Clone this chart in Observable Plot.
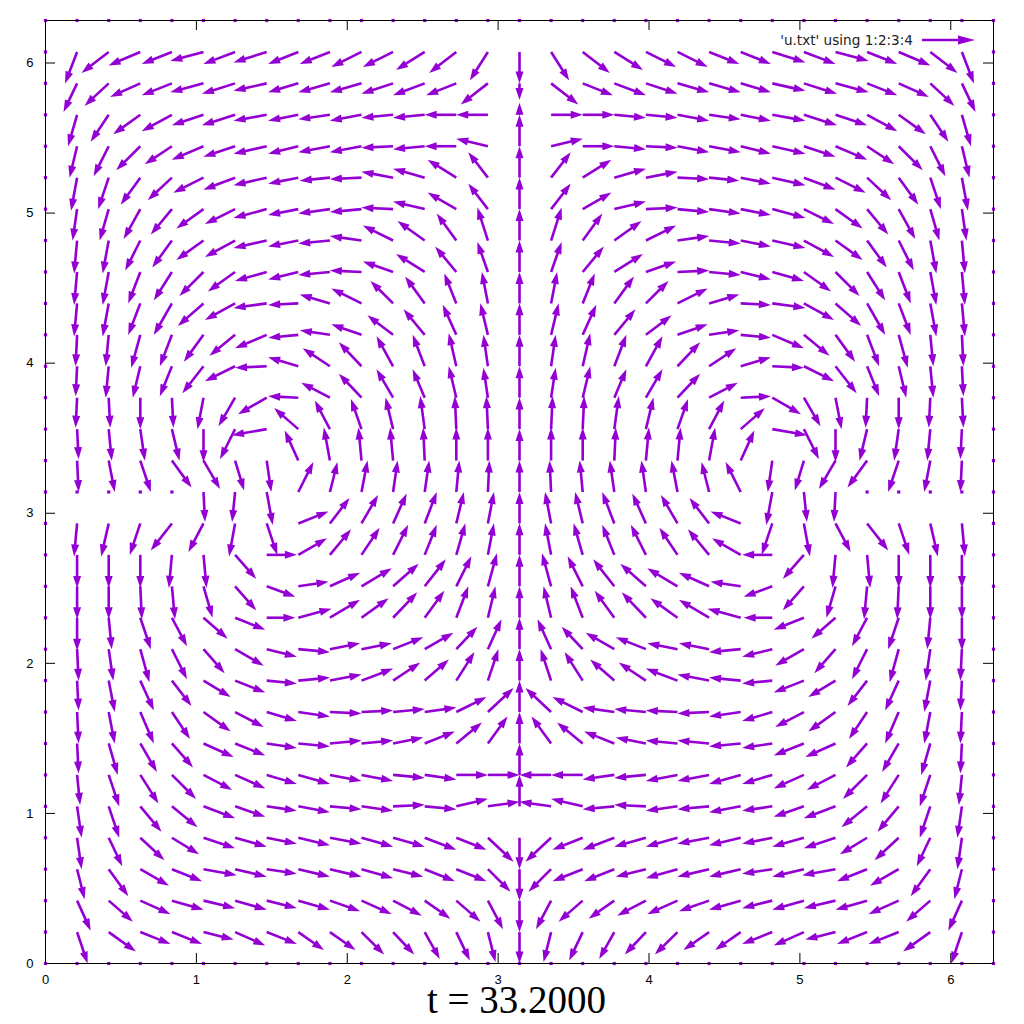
<!DOCTYPE html>
<html><head><meta charset="utf-8">
<script src="https://cdn.jsdelivr.net/npm/d3@7"></script>
<script src="https://cdn.jsdelivr.net/npm/@observablehq/plot@0.6"></script>
<style>body{margin:0;background:#fff}</style>
</head><body><div id="chart"></div>
<script>
// grid coordinates (2*pi/30 spacing)
const xs = [0,0.2094,0.4189,0.6283,0.8378,1.0472,1.2566,1.4661,1.6755,1.8850,2.0944,2.3038,2.5133,2.7227,2.9322,3.1416,3.3510,3.5605,3.7699,3.9794,4.1888,4.3982,4.6077,4.8171,5.0265,5.2360,5.4454,5.6549,5.8643,6.0737,6.2832];
const ys = [6.2832,6.0737,5.8643,5.6549,5.4454,5.2360,5.0265,4.8171,4.6077,4.3982,4.1888,3.9794,3.7699,3.5605,3.3510,3.1416,2.9322,2.7227,2.5133,2.3038,2.0944,1.8850,1.6755,1.4661,1.2566,1.0472,0.8378,0.6283,0.4189,0.2094,0];
// vector components (columns 3,4 of u.txt), in hundredths of a unit; rows top to bottom
const Z = [0,0,0,0,0,0,0,0,0,0,0,0,0,0,0,0,0,0,0,0,0,0,0,0,0,0,0,0,0,0,0];
const U = [
Z,
[0,-8,-18,-21,-20,-22,-21,-22,-20,-20,-20,-20,-19,-18,-12,0,12,18,19,20,20,20,20,22,21,22,20,21,18,8,0],
[0,-9,-16,-20,-20,-22,-22,-22,-20,-21,-21,-21,-21,-20,-18,0,18,20,21,21,21,21,20,22,22,22,20,20,16,9,0],
[0,-6,-12,-18,-20,-21,-22,-22,-20,-21,-21,-21,-21,-21,-21,0,21,21,21,21,21,21,20,22,22,21,20,18,12,6,0],
[0,-5,-10,-16,-18,-21,-21,-22,-20,-21,-21,-21,-21,-21,-21,0,21,21,21,21,21,21,20,22,21,21,18,16,10,5,0],
[0,-4,-7,-13,-16,-20,-21,-22,-20,-20,-21,-21,-21,-19,-13,0,13,19,21,21,21,20,20,22,21,20,16,13,7,4,0],
[0,-3,-6,-11,-14,-18,-20,-22,-20,-21,-21,-21,-21,-19,-13,0,13,19,21,21,21,21,20,22,20,18,14,11,6,3,0],
[0,-2,-4,-10,-13,-18,-20,-22,-20,-21,-21,-20,-18,-13,-7,0,7,13,18,20,21,21,20,22,20,18,13,10,4,2,0],
[0,-2,-4,-8,-12,-16,-18,-21,-20,-21,-21,-20,-19,-14,-7,0,7,14,19,20,21,21,20,21,18,16,12,8,4,2,0],
[0,-2,-4,-8,-12,-17,-20,-22,-20,-20,-20,-15,-13,-8,-4,0,4,8,13,15,20,20,20,22,20,17,12,8,4,2,0],
[0,-1,-2,-6,-8,-13,-17,-21,-20,-20,-20,-17,-14,-9,-5,0,5,9,14,17,20,20,20,21,17,13,8,6,2,1,0],
[0,-1,-2,-5,-8,-14,-20,-21,-20,-18,-15,-11,-8,-5,-3,0,3,5,8,11,15,18,20,21,20,14,8,5,2,1,0],
[0,-1,1,0,1,-4,-11,-19,-20,-19,-15,-11,-8,-5,-3,0,3,5,8,11,15,19,20,19,11,4,-1,0,-1,1,0],
[0,1,2,3,5,0,-10,-23,-16,-10,-7,-5,-3,-1,-1,0,1,1,3,5,7,10,16,23,10,0,-5,-3,-2,-1,0],
[0,1,4,7,13,11,6,3,-9,-4,-2,-2,-1,0,0,0,0,0,1,2,2,4,9,-3,-6,-11,-13,-7,-4,-1,0],
[0,0,0,0,0,1,-2,4,10,5,4,3,3,2,1,0,-1,-2,-3,-3,-4,-5,-10,-4,2,-1,0,0,0,0,0],
[0,-2,-5,-7,-14,-10,-4,7,20,13,11,9,8,5,4,0,-4,-5,-8,-9,-11,-13,-20,-7,4,10,14,7,5,2,0],
[0,0,0,0,-2,2,14,20,19,14,12,10,8,6,4,0,-4,-6,-8,-10,-12,-14,-19,-20,-14,-2,2,0,0,0,0],
[0,0,0,1,2,6,14,19,20,20,20,17,14,10,6,0,-6,-10,-14,-17,-20,-20,-20,-19,-14,-6,-2,-1,0,0,0],
[0,0,2,7,10,16,20,19,22,20,18,16,13,8,5,0,-5,-8,-13,-16,-18,-20,-22,-19,-20,-16,-10,-7,-2,0,0],
[0,1,3,6,10,14,19,20,21,20,20,20,19,14,9,0,-9,-14,-19,-20,-20,-20,-21,-20,-19,-14,-10,-6,-3,-1,0],
[0,1,4,9,13,18,20,20,21,21,21,18,16,12,7,0,-7,-12,-16,-18,-21,-21,-21,-20,-20,-18,-13,-9,-4,-1,0],
[0,1,4,9,12,18,19,20,21,21,21,21,21,20,17,0,-17,-20,-21,-21,-21,-21,-21,-20,-19,-18,-12,-9,-4,-1,0],
[0,1,6,11,14,20,20,20,21,21,21,20,20,17,13,0,-13,-17,-20,-20,-21,-21,-21,-20,-20,-20,-14,-11,-6,-1,0],
[0,2,7,12,16,19,20,20,21,21,21,21,21,21,21,0,-21,-21,-21,-21,-21,-21,-21,-20,-20,-19,-16,-12,-7,-2,0],
[0,3,7,14,17,21,20,20,21,21,21,21,21,21,21,0,-21,-21,-21,-21,-21,-21,-21,-20,-20,-21,-17,-14,-7,-3,0],
[0,3,9,16,18,21,21,20,21,21,21,21,21,20,17,0,-17,-20,-21,-21,-21,-21,-21,-20,-21,-21,-18,-16,-9,-3,0],
[0,5,13,19,20,22,21,20,21,21,21,20,20,20,15,0,-15,-20,-20,-20,-21,-21,-21,-20,-21,-22,-20,-19,-13,-5,0],
[0,9,16,20,21,21,21,20,21,20,20,19,17,16,10,0,-10,-16,-17,-19,-20,-20,-21,-20,-21,-21,-21,-20,-16,-9,0],
[0,7,18,20,20,20,20,20,17,17,15,14,10,9,5,0,-5,-9,-10,-14,-15,-17,-17,-20,-20,-20,-20,-20,-18,-7,0],
Z
];
const V = [
Z,
[0,-21,-14,-9,-8,-6,-8,-7,-8,-8,-10,-10,-12,-14,-19,-21,-19,-14,-12,-10,-10,-8,-8,-7,-8,-6,-8,-9,-14,-21,0],
[0,-19,-15,-9,-8,-6,-7,-5,-6,-6,-6,-7,-8,-8,-14,-11,-14,-8,-8,-7,-6,-6,-6,-5,-7,-6,-8,-9,-15,-19,0],
[0,-21,-18,-13,-11,-7,-7,-4,-4,-3,-4,-2,-2,0,0,8,0,0,-2,-2,-4,-3,-4,-4,-7,-7,-11,-13,-18,-21,0],
[0,-21,-20,-16,-12,-9,-7,-5,-5,-4,-4,-1,-2,0,5,21,5,0,-2,-1,-4,-4,-5,-5,-7,-9,-12,-16,-20,-21,0],
[0,-22,-21,-18,-15,-10,-8,-5,-4,-2,-1,4,6,12,17,21,17,12,6,4,-1,-2,-4,-5,-8,-10,-15,-18,-21,-22,0],
[0,-21,-21,-20,-17,-13,-10,-6,-4,-3,-2,1,5,11,17,21,17,11,5,1,-2,-3,-4,-6,-10,-13,-17,-20,-21,-21,0],
[0,-22,-22,-20,-18,-13,-11,-5,-4,-2,3,10,13,18,22,21,22,18,13,10,3,-2,-4,-5,-11,-13,-18,-20,-22,-22,0],
[0,-22,-22,-21,-19,-16,-13,-6,-5,-2,1,7,12,17,20,21,20,17,12,7,1,-2,-5,-6,-13,-16,-19,-21,-22,-22,0],
[0,-22,-22,-21,-21,-15,-11,-3,-1,6,10,15,18,20,21,21,21,20,18,15,10,6,-1,-3,-11,-15,-21,-21,-22,-22,0],
[0,-21,-21,-22,-21,-18,-14,-9,-2,3,7,13,17,20,21,21,21,20,17,13,7,3,-2,-9,-14,-18,-21,-22,-21,-21,0],
[0,-20,-21,-21,-20,-18,-10,-1,6,12,16,20,21,22,21,21,21,22,21,20,16,12,6,-1,-10,-18,-20,-21,-21,-20,0],
[0,-20,-20,-21,-20,-21,-19,-11,1,10,16,19,19,21,20,21,20,21,19,19,16,10,1,-11,-19,-21,-20,-21,-20,-20,0],
[0,-20,-21,-21,-21,-22,-20,-4,14,19,20,21,22,22,22,21,22,22,22,21,20,19,14,-4,-20,-22,-21,-21,-21,-20,0],
[0,-21,-21,-21,-18,-19,-20,-21,20,22,22,22,22,22,22,21,22,22,22,22,22,22,20,-21,-20,-19,-18,-21,-21,-21,0],
[0,0,0,0,0,-20,-20,-22,20,20,21,21,21,21,21,21,21,21,21,21,21,20,20,-22,-20,-20,0,0,0,0,0],
[0,-22,-22,-21,-18,-19,-22,-21,8,17,19,20,21,21,21,21,21,21,21,20,19,17,8,-21,-22,-19,-18,-21,-22,-22,0],
[0,-22,-22,-22,-22,-22,-16,0,11,17,18,20,20,21,21,21,21,21,20,20,18,17,11,0,-16,-22,-22,-22,-22,-22,0],
[0,-22,-22,-22,-22,-21,-16,-7,3,9,12,15,18,20,22,21,22,20,18,15,12,9,3,-7,-16,-21,-22,-22,-22,-22,0],
[0,-22,-21,-21,-19,-14,-8,0,6,12,13,17,18,21,21,21,21,21,18,17,13,12,6,0,-8,-14,-19,-21,-21,-22,0],
[0,-21,-21,-22,-20,-16,-11,-5,-2,4,4,8,11,15,20,21,20,15,11,8,4,4,-2,-5,-11,-16,-20,-22,-21,-21,0],
[0,-20,-21,-20,-17,-11,-8,-2,2,4,8,12,14,19,21,21,21,19,14,12,8,4,2,-2,-8,-11,-17,-20,-21,-20,0],
[0,-21,-21,-21,-18,-13,-10,-6,-3,-1,1,2,3,10,16,21,16,10,3,2,1,-1,-3,-6,-10,-13,-18,-21,-21,-21,0],
[0,-20,-21,-19,-16,-9,-8,-3,-2,2,2,4,8,14,18,21,18,14,8,4,2,2,-2,-3,-8,-9,-16,-19,-21,-20,0],
[0,-20,-21,-19,-16,-10,-9,-6,-6,-4,-4,-2,-3,0,0,21,0,0,-3,-2,-4,-4,-6,-6,-9,-10,-16,-19,-21,-20,0],
[0,-21,-21,-17,-14,-8,-7,-3,-4,-2,-3,1,-2,5,3,21,3,5,-2,1,-3,-2,-4,-3,-7,-8,-14,-17,-21,-21,0],
[0,-21,-19,-15,-11,-7,-6,-4,-5,-4,-6,-6,-8,-8,-16,-21,-16,-8,-8,-6,-6,-4,-5,-4,-6,-7,-11,-15,-19,-21,0],
[0,-20,-18,-11,-8,-4,-5,-3,-5,-5,-6,-5,-8,-8,-15,-21,-15,-8,-8,-5,-6,-5,-5,-3,-5,-4,-8,-11,-18,-20,0],
[0,-20,-14,-9,-6,-5,-6,-5,-6,-7,-9,-10,-12,-14,-19,-21,-19,-14,-12,-10,-9,-7,-6,-5,-6,-5,-6,-9,-14,-20,0],
[0,-21,-13,-8,-8,-5,-9,-8,-12,-12,-15,-15,-18,-19,-20,-21,-20,-19,-18,-15,-15,-12,-12,-8,-9,-5,-8,-8,-13,-21,0],
Z
];
const xTicks = [0,1,2,3,4,5,6];
const yTicks = [0,1,2,3,4,5,6];
const legendLabel = "'u.txt' using 1:2:3:4";
const title = "t = 33.2000";

const COLOR = "#9400d3";
const W = 1024, H = 1024, mL = 45, mR = 31, mT = 20, mB = 61;
const innerW = W - mL - mR, innerH = H - mT - mB;

const vecs = [], zeros = [];
ys.forEach((y, r) => xs.forEach((x, c) => {
  const u = U[r][c] / 100, v = V[r][c] / 100;
  if (u === 0 && v === 0) zeros.push({x, y});
  else vecs.push({x, y, x2: x + u, y2: y + v, rot: Math.atan2(u, v) * 180 / Math.PI});
}));

// filled arrow head, tip at origin, pointing up
const head = {draw(ctx) { ctx.moveTo(0, 0); ctx.lineTo(4, 12); ctx.lineTo(-4, 12); ctx.closePath(); }};

const fontSans = "'Liberation Sans', Arial, sans-serif";
const fontKey = "'DejaVu Sans', 'Liberation Sans', sans-serif";

const chart = Plot.plot({
  width: W, height: H,
  marginLeft: mL, marginRight: mR, marginTop: mT, marginBottom: mB,
  x: {domain: [0, 2 * Math.PI], label: null},
  y: {domain: [0, 2 * Math.PI], label: null},
  style: {fontFamily: fontSans, fontSize: "13px", color: "black", background: "white"},
  marks: [
    Plot.arrow(vecs, {x1: "x", y1: "y", x2: "x2", y2: "y2", stroke: COLOR, strokeWidth: 2.6,
      headLength: 0, insetEnd: 8, strokeLinecap: "butt", strokeLinejoin: "miter"}),
    Plot.dot(vecs, {x: "x2", y: "y2", rotate: "rot", symbol: head, r: 4, fill: COLOR, stroke: "none"}),
    Plot.dot(zeros, {x: "x", y: "y", symbol: "square", r: 1.8, fill: COLOR, stroke: "none"}),
    Plot.frame({stroke: "black", strokeWidth: 1}),
    Plot.tickX(xTicks, {x: d => d, insetTop: innerH - 10, stroke: "black"}),
    Plot.tickX(xTicks, {x: d => d, insetBottom: innerH - 10, stroke: "black"}),
    Plot.tickY(yTicks, {y: d => d, insetRight: innerW - 10, stroke: "black"}),
    Plot.tickY(yTicks, {y: d => d, insetLeft: innerW - 10, stroke: "black"}),
    Plot.axisX({ticks: xTicks, tickFormat: d => String(d), tickSize: 0, tickPadding: 11, anchor: "bottom", label: null, fontSize: 13}),
    Plot.axisY({ticks: yTicks, tickFormat: d => String(d), tickSize: 0, tickPadding: 12, anchor: "left", label: null, fontSize: 13}),
    Plot.text([title], {frameAnchor: "bottom", dy: 49, dx: -3, fontSize: 39,
      fontFamily: "'Liberation Serif', 'Times New Roman', serif", fill: "black"})
  ]
});

// key (legend) inside the top-right corner of the frame
const svg = d3.select(chart);
const kx = W - mR - 71, ky = mT + 20;
const key = svg.append("g");
key.append("text").attr("x", kx - 9).attr("y", ky).attr("dy", "0.35em")
  .attr("text-anchor", "end").attr("font-family", fontKey).attr("font-size", 13.6)
  .attr("fill", "#222").text(legendLabel);
key.append("line").attr("x1", kx).attr("x2", kx + 40).attr("y1", ky).attr("y2", ky)
  .attr("stroke", COLOR).attr("stroke-width", 2.6);
key.append("path").attr("d", `M${kx + 53},${ky} L${kx + 36},${ky - 4.5} L${kx + 36},${ky + 4.5} Z`)
  .attr("fill", COLOR);

document.getElementById("chart").appendChild(chart);
</script>
</body></html>
